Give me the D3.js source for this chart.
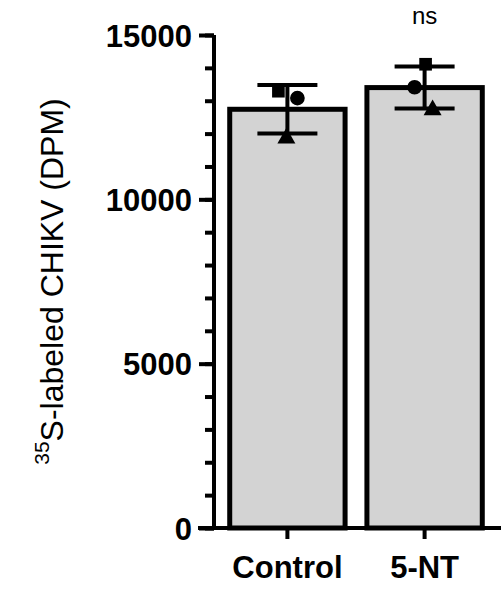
<!DOCTYPE html>
<html>
<head>
<meta charset="utf-8">
<script src="https://cdn.jsdelivr.net/npm/d3@7"></script>
<style>
  body { margin: 0; background: #fff; }
  svg { font-family: "Liberation Sans", Arial, sans-serif; }
</style>
</head>
<body>
<div id="chart"></div>
<script>
// data
var groups = ["Control", "5-NT"];
var means = [12740, 13400];
var sds = [740, 640];
var squares = [13290, 14110];
var circles = [13080, 13410];
var triangles = [11890, 12750];
var yTicks = [0, 5000, 10000, 15000];

var width = 501, height = 600;
var margin = {top: 35, right: 0, bottom: 72, left: 214};
var fontStack = "Liberation Sans, Arial, sans-serif";

var svg = d3.select("#chart").append("svg")
  .attr("width", width)
  .attr("height", height);

var x = d3.scaleBand()
  .domain(groups)
  .range([margin.left, 498])
  .paddingInner(0.13)
  .paddingOuter(0.1);

var y = d3.scaleLinear()
  .domain([0, 15000])
  .range([height - margin.bottom, margin.top]);

// bars
svg.selectAll("rect.bar")
  .data(groups)
  .enter().append("rect")
  .attr("class", "bar")
  .attr("x", function (d) { return x(d) + 2; })
  .attr("width", x.bandwidth() - 4)
  .attr("y", function (d, i) { return y(means[i]); })
  .attr("height", function (d, i) { return y(0) - y(means[i]); })
  .attr("fill", "#d3d3d3")
  .attr("stroke", "#000")
  .attr("stroke-width", 5);

// error bars
var cap = 30;
groups.forEach(function (g, i) {
  var cx = x(g) + x.bandwidth() / 2;
  var eb = svg.append("g").attr("stroke", "#000").attr("stroke-width", 4);
  eb.append("line")
    .attr("x1", cx).attr("x2", cx)
    .attr("y1", y(means[i] + sds[i])).attr("y2", y(means[i] - sds[i]));
  eb.append("line")
    .attr("x1", cx - cap).attr("x2", cx + cap)
    .attr("y1", y(means[i] + sds[i])).attr("y2", y(means[i] + sds[i]));
  eb.append("line")
    .attr("x1", cx - cap).attr("x2", cx + cap)
    .attr("y1", y(means[i] - sds[i])).attr("y2", y(means[i] - sds[i]));
});

// individual points
var offsets = {sq: [-9, 1], ci: [10, -10], tr: [-1, 8]};
groups.forEach(function (g, i) {
  var cx = x(g) + x.bandwidth() / 2;
  svg.append("path")
    .attr("d", d3.symbol().type(d3.symbolSquare).size(160)())
    .attr("transform", "translate(" + (cx + offsets.sq[i]) + "," + y(squares[i]) + ")");
  svg.append("path")
    .attr("d", d3.symbol().type(d3.symbolCircle).size(170)())
    .attr("transform", "translate(" + (cx + offsets.ci[i]) + "," + y(circles[i]) + ")");
  svg.append("path")
    .attr("d", d3.symbol().type(d3.symbolTriangle).size(140)())
    .attr("transform", "translate(" + (cx + offsets.tr[i]) + "," + (y(triangles[i]) + 1) + ")");
});

// y axis
var yAxis = svg.append("g")
  .attr("transform", "translate(" + margin.left + ",0)")
  .call(d3.axisLeft(y).tickValues(yTicks).tickFormat(d3.format("d")).tickSize(15).tickPadding(7));
yAxis.select(".domain").attr("stroke-width", 4).attr("d",
  "M0," + y(15000) + "V" + y(0));
yAxis.selectAll(".tick line").attr("stroke-width", 4);
yAxis.selectAll(".tick text")
  .style("font-size", "31px").style("font-weight", "bold")
  .style("font-family", fontStack)
  .attr("dy", "0.36em").attr("fill", "#000");

svg.append("g")
  .attr("transform", "translate(" + margin.left + ",0)")
  .call(d3.axisLeft(y).ticks(15).tickSize(9).tickFormat(""))
  .call(function (g) { g.select(".domain").remove(); })
  .selectAll(".tick line").attr("stroke-width", 4);

// x axis
var xAxis = svg.append("g")
  .attr("transform", "translate(0," + y(0) + ")")
  .call(d3.axisBottom(x).tickSize(11).tickPadding(17));
xAxis.select(".domain").attr("stroke-width", 4).attr("d",
  "M" + (margin.left - 16) + ",0H" + width);
xAxis.selectAll(".tick line").attr("stroke-width", 4);
xAxis.selectAll(".tick text")
  .style("font-size", "31px").style("font-weight", "bold")
  .style("font-family", fontStack)
  .attr("fill", "#000");

// y title
var title = svg.append("text")
  .attr("transform", "translate(58," + ((y(0) + y(15000)) / 2) + ") rotate(-90)")
  .attr("text-anchor", "middle")
  .style("font-size", "32px")
  .attr("fill", "#000");
title.append("tspan").style("font-size", "21px").attr("dy", "-0.45em").text("35");
title.append("tspan").attr("dy", "0.45em").text("S-labeled CHIKV (DPM)");

// significance label
svg.append("text")
  .attr("x", x("5-NT") + x.bandwidth() / 2)
  .attr("y", 24)
  .attr("text-anchor", "middle")
  .style("font-size", "24px")
  .text("ns");
</script>
</body>
</html>
